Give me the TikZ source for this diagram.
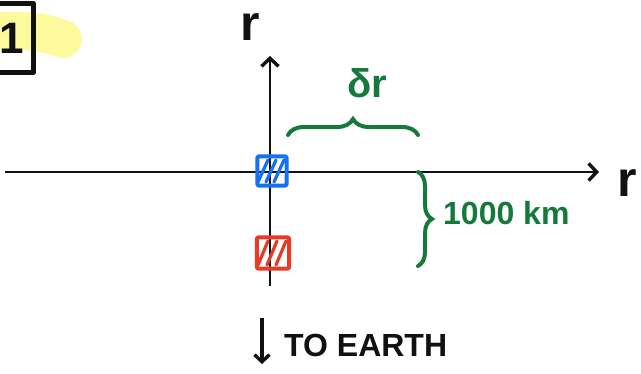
\documentclass[tikz,border=0pt]{standalone}
\usepackage{fontspec}
\setsansfont{Liberation Sans}
\usetikzlibrary{arrows.meta,decorations.pathreplacing}
\definecolor{hlyellow}{HTML}{FCFA9C}
\definecolor{ink}{HTML}{111111}
\definecolor{pen green}{HTML}{16793C}
\definecolor{pen blue}{HTML}{1570F5}
\definecolor{pen red}{HTML}{E83A28}
\tikzset{
  axis/.style={draw=ink, line width=2pt, -{Straight Barb[length=8pt,width=17pt,line width=3.4pt]}},
  bodyline/.style={draw=#1, line width=4pt, rounded corners=2pt, line join=round},
  hatch/.style={draw=#1, line width=3.2pt, line cap=round},
  gbrace/.style={draw=pen green, line width=4pt, line cap=round, decorate, decoration={brace, amplitude=#1}},
  glabel/.style={text=pen green, font=\sffamily\bfseries\fontsize{32}{32}\selectfont, inner sep=0pt},
  biglabel/.style={text=ink, font=\sffamily\bfseries\fontsize{50}{50}\selectfont, inner sep=0pt, anchor=base},
}
\begin{document}
\begin{tikzpicture}[x=1pt,y=-1pt]
\useasboundingbox (0,0) rectangle (641,373);
% highlight
\draw[hlyellow, line width=38pt, line cap=round] (-10,32) .. controls (30,29) and (48,33) .. (63,39);
% box with number
\node[inner sep=0pt, minimum width=42pt, minimum height=69pt,
      font=\sffamily\bfseries\fontsize{44}{44}\selectfont, text=ink] (num) at (12,38) {1};
\draw[ink, line width=5pt, line join=round] (num.north west) rectangle (num.south east);
% axes
\coordinate (vbot) at (270,286);
\coordinate (vtop) at (270,56);
\coordinate (hleft) at (5,172);
\coordinate (hright) at (599,172);
\draw[axis] (vbot) -- (vtop);
\draw[axis] (hleft) -- (hright);
\node[biglabel] (rv) at (250,40) {r};
\node[biglabel] (rh) at (627,196) {r};
% bodies
\node[inner sep=0pt, minimum width=29pt, minimum height=29pt] (blue) at (272,171) {};
\draw[bodyline=pen blue] (blue.north west) rectangle (blue.south east);
\foreach \dx in {-9,-1,7}{
  \draw[hatch=pen blue] ([shift={(\dx-5,11)}]blue.center) -- ++(10,-22);
}
\node[inner sep=0pt, minimum width=32pt, minimum height=31pt] (red) at (273,253) {};
\draw[bodyline=pen red] (red.north west) rectangle (red.south east);
\foreach \dx in {-10,-1,8}{
  \draw[hatch=pen red] ([shift={(\dx-5,12)}]red.center) -- ++(10,-24);
}
% braces
\coordinate (b1a) at (288,135);
\coordinate (b1b) at (418,135);
\draw[gbrace=16pt] (b1a) -- (b1b);
\node[glabel, font=\sffamily\bfseries\fontsize{40}{40}\selectfont, anchor=base] (dr) at (367,97) {δr};
\coordinate (b2a) at (418,172);
\coordinate (b2b) at (418,266);
\draw[gbrace=14pt] (b2a) -- (b2b);
\node[glabel, anchor=west] (km) at (443,213) {1000 km};
% to earth
\coordinate (ea) at (262,318);
\coordinate (eb) at (262,364);
\draw[ink, line width=3.4pt, -{Straight Barb[length=7pt,width=15pt,line width=3.4pt]}] (ea) -- (eb);
\node[text=ink, font=\sffamily\bfseries\fontsize{32}{32}\selectfont, anchor=west, inner sep=0pt] (earth) at (284,345) {TO EARTH};
\end{tikzpicture}
\end{document}
